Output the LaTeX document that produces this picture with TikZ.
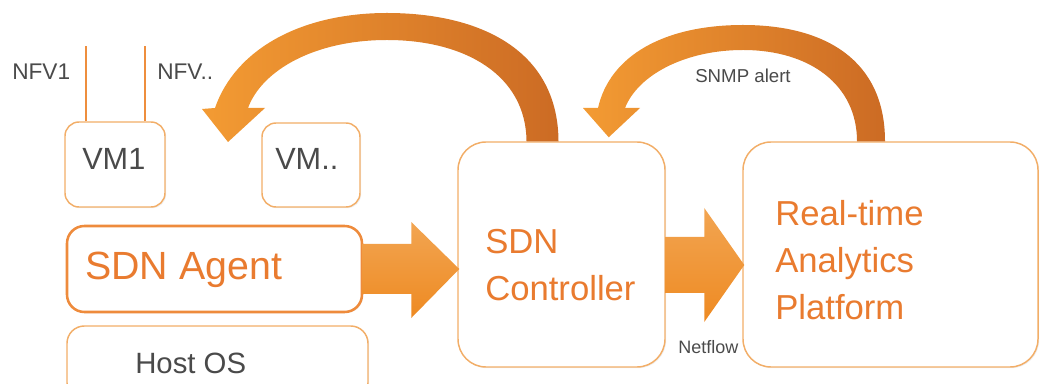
\documentclass[tikz,border=0pt]{standalone}
\usepackage{fontspec}
\setmainfont{Liberation Sans}
\usetikzlibrary{calc,shadows}
\definecolor{boxline}{HTML}{F2AE68}
\definecolor{agentline}{HTML}{EE8B3C}
\definecolor{orangetxt}{HTML}{E97B2F}
\definecolor{graytxt}{HTML}{4A4A4A}
\definecolor{arrowA}{HTML}{F39B33}
\definecolor{arrowB}{HTML}{CC6B24}
\definecolor{arrowTop}{HTML}{F2A552}
\definecolor{arrowBot}{HTML}{EE8A22}
\definecolor{nfvline}{HTML}{EE8E3E}
\begin{document}
\begin{tikzpicture}[x=0.75pt,y=-0.75pt,
  box/.style={draw=boxline, line width=1.1pt, fill=white, inner sep=0pt,
    drop shadow={opacity=0.12, shadow xshift=0.9pt, shadow yshift=-0.9pt}},
  smallbox/.style={box, rounded corners=10.5pt},
  bigbox/.style={box, rounded corners=21pt},
  agentbox/.style={box, draw=agentline, line width=1.9pt, rounded corners=13pt},
  bigtxt/.style={text=orangetxt, inner sep=0pt, align=left, font=\fontsize{26}{35.4}\selectfont},
  agenttxt/.style={text=orangetxt, inner sep=0pt, font=\fontsize{29.5}{34}\selectfont},
  graytext/.style={text=graytxt, inner sep=0pt},
  nfv/.style={draw=nfvline, line width=1.6pt},
  curvearrow/.style={left color=arrowA, right color=arrowB},
  straightarrow/.style={top color=arrowTop, bottom color=arrowBot}
]
\useasboundingbox (0,0) rectangle (1041,384);

% boxes
\node[smallbox, minimum width=75pt, minimum height=63.75pt] (vm1) at (115,164.5) {};
\node[smallbox, minimum width=73.5pt, minimum height=63pt] (vm2) at (311,165) {};
\node[agentbox, minimum width=221.25pt, minimum height=64.5pt] (agent) at (214.5,269) {};
\node[box, rounded corners=13pt, minimum width=225.75pt, minimum height=55.5pt] (host) at (217.5,363) {};
\node[bigbox, minimum width=155.25pt, minimum height=168.75pt] (ctrl) at (561.5,254.5) {};
\node[bigbox, minimum width=221.25pt, minimum height=168.75pt] (rta) at (890.5,254.5) {};

% texts
\node[graytext, anchor=base west, font=\fontsize{23}{26}\selectfont] (vm1t) at (82,170) {VM1};
\node[graytext, anchor=base west, font=\fontsize{23}{26}\selectfont] (vm2t) at (275,170) {VM..};
\node[graytext, anchor=base west, font=\fontsize{17}{20}\selectfont] (nfv1t) at (12,80) {NFV1};
\node[graytext, anchor=base west, font=\fontsize{17}{20}\selectfont] (nfv2t) at (157,80) {NFV..};
\node[agenttxt, anchor=base west] (agentt) at (85,280) {SDN Agent};
\node[graytext, anchor=base west, font=\fontsize{22}{26}\selectfont] (hostt) at (135,373) {Host OS};
\node[bigtxt, anchor=west] (ctrlt) at (485,265) {SDN\\Controller};
\node[bigtxt, anchor=west] (rtat) at (775,260) {Real-time\\Analytics\\Platform};
\node[graytext, anchor=base west, font=\fontsize{14}{17}\selectfont] (snmp) at (695,83) {SNMP alert};
\node[graytext, anchor=base west, font=\fontsize{13.5}{16}\selectfont] (netflow) at (678,353) {Netflow};

% NFV lines
\draw[nfv] ($(vm1.north)+(-29,0)$) coordinate (n1b) -- ($(n1b)+(0,-75)$) coordinate (n1t);
\draw[nfv] ($(vm1.north)+(30,0)$) coordinate (n2b) -- ($(n2b)+(0,-75)$) coordinate (n2t);

% straight arrows
\coordinate (a1s) at (agent.east);
\coordinate (a1e) at (ctrl.west |- agent.east);
\shade[straightarrow] ($(a1s)+(-1,-25)$) -- ($(a1e)+(-46,-25)$) -- ($(a1e)+(-46,-47)$)
  -- ($(a1e)+(2,0)$) -- ($(a1e)+(-46,49)$) -- ($(a1e)+(-46,25)$) -- ($(a1s)+(-1,25)$) -- cycle;

\coordinate (a2s) at ($(ctrl.east)+(0,10.5)$);
\coordinate (a2e) at ($(rta.west)+(2,10.5)$);
\shade[straightarrow] ($(a2s)+(0,-28)$) -- ($(a2e)+(-40,-28)$) -- ($(a2e)+(-40,-57)$)
  -- (a2e) -- ($(a2e)+(-40,57)$) -- ($(a2e)+(-40,28)$) -- ($(a2s)+(0,28)$) -- cycle;

% curved arrow: controller -> VMs
\coordinate (c1b) at ($(ctrl.north)+(-3,0)$);
\shade[curvearrow] (c1b) .. controls (558,50) and (480,13) .. (387,13)
  .. controls (300,13) and (235,50) .. (215,108) -- (202,109) -- (228,142) -- (265,108) -- (248,108)
  .. controls (262,70) and (315,40) .. (387,40)
  .. controls (465,40) and (526,75) .. ($(ctrl.north)+(-35,0)$) -- cycle;

% curved arrow: analytics -> controller (SNMP alert)
\coordinate (c2b) at ($(rta.north)+(-5.5,0)$);
\shade[curvearrow] (c2b) .. controls (885,60) and (825,25) .. (743,25)
  .. controls (665,25) and (610,55) .. (598,108) -- (583,108) -- ($(ctrl.north east)+(-57,-4)$) -- (640,108) -- (625,108)
  .. controls (638,75) and (685,50) .. (743,50)
  .. controls (810,50) and (857,85) .. ($(rta.north)+(-33.5,0)$) -- cycle;
\end{tikzpicture}
\end{document}
